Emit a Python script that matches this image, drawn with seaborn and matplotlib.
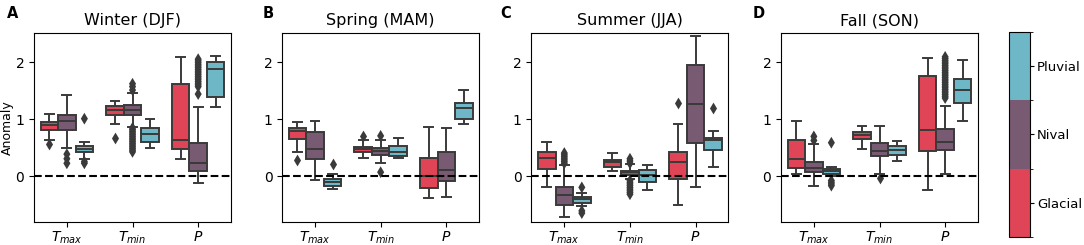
import pandas as pd
import seaborn as sns
import matplotlib as mpl
import matplotlib.pyplot as plt
from matplotlib.colors import ListedColormap, BoundaryNorm

# Categories
variables = ['$T_{max}$', '$T_{min}$', '$P$']
regimes = ['Glacial', 'Nival', 'Pluvial']
regime_colors = ['#df4557', '#795a73', '#6db7c7']
seasons = ['Winter (DJF)', 'Spring (MAM)', 'Summer (JJA)', 'Fall (SON)']
letters = ['A', 'B', 'C', 'D']

# Box summaries: [whisker low, Q1, median, Q3, whisker high]
# one row per variable (Tmax, Tmin, P)
winter_glacial = [[0.64, 0.81, 0.90, 0.96, 1.10], [0.92, 1.08, 1.16, 1.23, 1.32], [0.31, 0.48, 0.64, 1.62, 2.09]]
winter_nival = [[0.50, 0.82, 0.97, 1.07, 1.43], [0.87, 1.07, 1.16, 1.25, 1.45], [-0.12, 0.09, 0.23, 0.59, 1.22]]
winter_pluvial = [[0.30, 0.42, 0.48, 0.53, 0.60], [0.49, 0.60, 0.75, 0.84, 1.00], [1.22, 1.39, 1.87, 2.00, 2.10]]

spring_glacial = [[0.43, 0.65, 0.79, 0.84, 0.945], [0.33, 0.42, 0.475, 0.52, 0.64], [-0.38, -0.20, 0.0, 0.32, 0.87]]
spring_nival = [[-0.06, 0.30, 0.475, 0.78, 0.97], [0.24, 0.38, 0.45, 0.49, 0.64], [-0.35, -0.07, 0.12, 0.42, 0.85]]
spring_pluvial = [[-0.21, -0.16, -0.09, -0.04, 0.05], [0.32, 0.36, 0.42, 0.53, 0.68], [0.92, 1.00, 1.20, 1.29, 1.51]]

summer_glacial = [[-0.19, 0.13, 0.32, 0.435, 0.61], [0.10, 0.17, 0.26, 0.29, 0.41], [-0.49, -0.05, 0.25, 0.435, 0.91]]
summer_nival = [[-0.71, -0.49, -0.33, -0.19, 0.20], [-0.04, 0.02, 0.07, 0.10, 0.21], [-0.19, 0.59, 1.27, 1.95, 2.45]]
summer_pluvial = [[-0.52, -0.46, -0.40, -0.365, -0.29], [-0.23, -0.09, 0.02, 0.12, 0.20], [0.16, 0.46, 0.63, 0.67, 0.79]]

fall_glacial = [[0.05, 0.145, 0.30, 0.63, 0.97], [0.48, 0.65, 0.725, 0.77, 0.89], [-0.24, 0.45, 0.81, 1.75, 2.07]]
fall_nival = [[-0.17, 0.07, 0.145, 0.26, 0.56], [0.05, 0.36, 0.45, 0.58, 0.89], [0.05, 0.46, 0.61, 0.83, 1.23]]
fall_pluvial = [[0.00, 0.04, 0.10, 0.13, 0.16], [0.27, 0.38, 0.46, 0.53, 0.62], [0.97, 1.28, 1.51, 1.71, 2.03]]

# Outliers: (variable index, regime, value)
winter_out = [(0, 'Glacial', 0.56), (0, 'Nival', 0.39), (0, 'Nival', 0.31), (0, 'Nival', 0.23),
              (0, 'Pluvial', 1.01), (0, 'Pluvial', 0.26), (0, 'Pluvial', 0.23),
              (1, 'Glacial', 0.68),
              (1, 'Nival', 1.51), (1, 'Nival', 1.57), (1, 'Nival', 1.62),
              (1, 'Nival', 0.85), (1, 'Nival', 0.82), (1, 'Nival', 0.79), (1, 'Nival', 0.76),
              (1, 'Nival', 0.73), (1, 'Nival', 0.70), (1, 'Nival', 0.67), (1, 'Nival', 0.64),
              (1, 'Nival', 0.61), (1, 'Nival', 0.58), (1, 'Nival', 0.55), (1, 'Nival', 0.52),
              (1, 'Nival', 0.49), (1, 'Nival', 0.46), (1, 'Nival', 0.43),
              (2, 'Nival', 1.44), (2, 'Nival', 1.57), (2, 'Nival', 1.60), (2, 'Nival', 1.63),
              (2, 'Nival', 1.66), (2, 'Nival', 1.69), (2, 'Nival', 1.72), (2, 'Nival', 1.75),
              (2, 'Nival', 1.78), (2, 'Nival', 1.81), (2, 'Nival', 1.84), (2, 'Nival', 1.87),
              (2, 'Nival', 1.90), (2, 'Nival', 1.93), (2, 'Nival', 1.96), (2, 'Nival', 1.99),
              (2, 'Nival', 2.02), (2, 'Nival', 2.05)]
spring_out = [(0, 'Glacial', 0.29), (0, 'Pluvial', 0.215),
              (1, 'Glacial', 0.71), (1, 'Nival', 0.71), (1, 'Nival', 0.075)]
summer_out = [(0, 'Nival', 0.23), (0, 'Nival', 0.26), (0, 'Nival', 0.29), (0, 'Nival', 0.32),
              (0, 'Nival', 0.35), (0, 'Nival', 0.38), (0, 'Nival', 0.41),
              (0, 'Pluvial', -0.19), (0, 'Pluvial', -0.60), (0, 'Pluvial', -0.64),
              (1, 'Nival', 0.23), (1, 'Nival', 0.27), (1, 'Nival', 0.31),
              (1, 'Nival', -0.07), (1, 'Nival', -0.10), (1, 'Nival', -0.13), (1, 'Nival', -0.16),
              (1, 'Nival', -0.19), (1, 'Nival', -0.22), (1, 'Nival', -0.25), (1, 'Nival', -0.28),
              (1, 'Nival', -0.31),
              (2, 'Glacial', 1.29), (2, 'Pluvial', 1.20)]
fall_out = [(0, 'Nival', 0.63), (0, 'Nival', 0.70), (0, 'Pluvial', 0.59),
            (0, 'Pluvial', -0.07), (0, 'Pluvial', -0.10), (0, 'Pluvial', -0.13), (0, 'Pluvial', -0.16),
            (1, 'Nival', -0.03),
            (2, 'Nival', 1.37), (2, 'Nival', 1.40), (2, 'Nival', 1.43), (2, 'Nival', 1.46),
            (2, 'Nival', 1.49), (2, 'Nival', 1.52), (2, 'Nival', 1.55), (2, 'Nival', 1.58),
            (2, 'Nival', 1.61), (2, 'Nival', 1.64), (2, 'Nival', 1.67), (2, 'Nival', 1.70),
            (2, 'Nival', 1.73), (2, 'Nival', 1.76), (2, 'Nival', 1.79), (2, 'Nival', 1.82),
            (2, 'Nival', 1.85), (2, 'Nival', 1.88), (2, 'Nival', 1.91), (2, 'Nival', 1.94),
            (2, 'Nival', 1.97), (2, 'Nival', 2.00), (2, 'Nival', 2.03), (2, 'Nival', 2.06),
            (2, 'Nival', 2.09)]

season_boxes = [
    [winter_glacial, winter_nival, winter_pluvial],
    [spring_glacial, spring_nival, spring_pluvial],
    [summer_glacial, summer_nival, summer_pluvial],
    [fall_glacial, fall_nival, fall_pluvial],
]
season_outliers = [winter_out, spring_out, summer_out, fall_out]


def box_frame(boxes):
    rows = []
    for regime, per_var in zip(regimes, boxes):
        for var, stats in zip(variables, per_var):
            for v in stats:
                rows.append((var, regime, v))
    return pd.DataFrame(rows, columns=['variable', 'regime', 'anomaly'])


def outlier_frame(outs):
    rows = [(variables[i], r, v) for i, r, v in outs]
    return pd.DataFrame(rows, columns=['variable', 'regime', 'anomaly'])


line_col = '#3a3a3a'
fig = plt.figure(figsize=(10.84, 2.45), dpi=100)

lefts = [0.0314, 0.2603, 0.4903, 0.7205]
letter_x = [0.0065, 0.2426, 0.4613, 0.6947]

for i in range(4):
    ax = fig.add_axes([lefts[i], 0.0927, 0.1817, 0.771])
    sns.boxplot(data=box_frame(season_boxes[i]), x='variable', y='anomaly', hue='regime',
                order=variables, hue_order=regimes, palette=regime_colors, saturation=1,
                whis=(0, 100), linecolor=line_col, linewidth=1.4, width=0.8,
                legend=False, ax=ax)
    sns.stripplot(data=outlier_frame(season_outliers[i]), x='variable', y='anomaly',
                  hue='regime', order=variables, hue_order=regimes,
                  palette={r: line_col for r in regimes}, dodge=True, jitter=False,
                  marker='d', size=6, legend=False, ax=ax)
    ax.axhline(0, color='black', ls='--', lw=1.5, zorder=5)
    ax.set_ylim(-0.8, 2.5)
    ax.set_xlim(-0.5, 2.5)
    ax.set_yticks([0, 1, 2])
    ax.tick_params(labelsize=10)
    ax.tick_params(axis='x', pad=2)
    ax.set_xlabel('')
    ax.set_ylabel('Anomaly' if i == 0 else '', fontsize=9, labelpad=1)
    ax.set_title(seasons[i], fontsize=11.5)
    fig.text(letter_x[i], 0.925, letters[i], fontweight='bold', fontsize=10.5)

# Regime colour bar
cax = fig.add_axes([0.9308, 0.0327, 0.0194, 0.838])
cmap = ListedColormap(regime_colors)
norm = BoundaryNorm([0, 1, 2, 3], 3)
cb = fig.colorbar(mpl.cm.ScalarMappable(norm=norm, cmap=cmap), cax=cax, ticks=[0.5, 1.5, 2.5])
cb.set_ticklabels(regimes)
cb.ax.tick_params(labelsize=9.5, length=3, pad=2)

plt.savefig('out.png', dpi=100)
